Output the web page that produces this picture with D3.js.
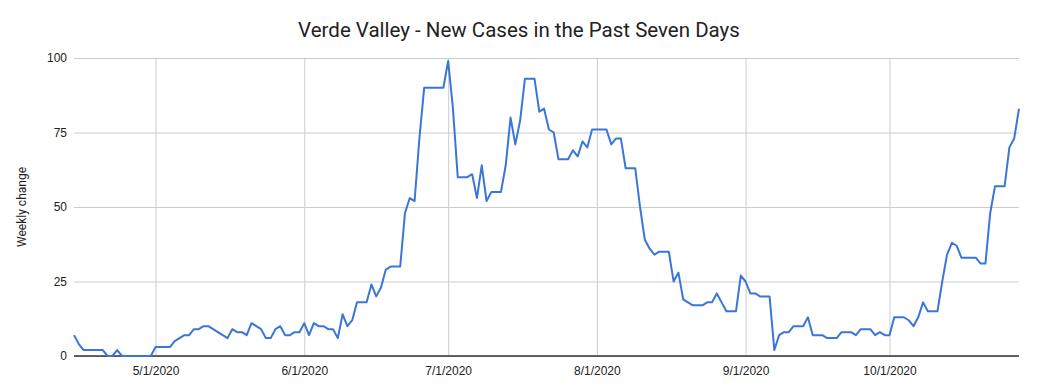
<!DOCTYPE html>
<html>
<head>
<meta charset="utf-8">
<script src="https://cdnjs.cloudflare.com/ajax/libs/d3/7.8.5/d3.min.js"></script>
<style>
  body { margin: 0; background: #fff; }
  svg { font-family: Roboto, Arial, sans-serif; }
</style>
</head>
<body>
<script>
// daily values starting 4/14/2020
var startDate = "2020-04-14";
var weeklyChange = [
    7, 4, 2, 2, 2, 2, 2, 0, 0, 2, 0, 0, 0, 0, 0, 0, 0,          // Apr 14-30
    3, 3, 3, 3, 5, 6, 7, 7, 9, 9, 10, 10, 9, 8, 7, 6, 9, 8, 8, 7,
    11, 10, 9, 6, 6, 9, 10, 7, 7, 8, 8,                          // May
    11, 7, 11, 10, 10, 9, 9, 6, 14, 10, 12, 18, 18, 18, 24, 20, 23,
    29, 30, 30, 30, 48, 53, 52, 73, 90, 90, 90, 90, 90,          // June
    99, 83, 60, 60, 60, 61, 53, 64, 52, 55, 55, 55, 64, 80, 71, 79,
    93, 93, 93, 82, 83, 76, 75, 66, 66, 66, 69, 67, 72, 70, 76,   // July
    76, 76, 76, 71, 73, 73, 63, 63, 63, 50, 39, 36, 34, 35, 35, 35,
    25, 28, 19, 18, 17, 17, 17, 18, 18, 21, 18, 15, 15, 15, 27,   // Aug
    25, 21, 21, 20, 20, 20, 2, 7, 8, 8, 10, 10, 10, 13, 7, 7, 7,
    6, 6, 6, 8, 8, 8, 7, 9, 9, 9, 7, 8, 7,                       // Sep
    7, 13, 13, 13, 12, 10, 13, 18, 15, 15, 15, 25, 34, 38, 37, 33,
    33, 33, 33, 31, 31, 48, 57, 57, 57, 70, 73, 83               // Oct 1-28
];
var yTicks = [0, 25, 50, 75, 100];
var xTickDates = ["2020-05-01", "2020-06-01", "2020-07-01", "2020-08-01", "2020-09-01", "2020-10-01"];

var width = 1038, height = 392;
var margin = {top: 58, right: 19, bottom: 36, left: 74};

var parse = d3.timeParse("%Y-%m-%d");
var t0 = parse(startDate);
var data = weeklyChange.map(function(v, i){
    return {date: d3.timeDay.offset(t0, i), value: v};
});

var svg = d3.select("body").append("svg")
    .attr("width", width)
    .attr("height", height);

var x = d3.scaleTime()
    .domain([data[0].date, data[data.length - 1].date])
    .range([margin.left, width - margin.right]);

var y = d3.scaleLinear()
    .domain([0, 100])
    .range([height - margin.bottom, margin.top]);

// horizontal gridlines + labels
var yAxis = d3.axisLeft(y)
    .tickValues(yTicks)
    .tickSize(-(width - margin.right - margin.left))
    .tickPadding(7);

svg.append("g")
    .attr("transform", "translate(" + margin.left + ",0)")
    .call(yAxis)
    .call(function(g){
        g.select(".domain").remove();
        g.selectAll(".tick line").attr("stroke", "#cccccc");
        g.selectAll(".tick text").attr("fill", "#222").style("font-size", "12px");
    });

// vertical gridlines + labels
var xAxis = d3.axisBottom(x)
    .tickValues(xTickDates.map(parse))
    .tickFormat(d3.timeFormat("%-m/%-d/%Y"))
    .tickSize(-(height - margin.bottom - margin.top))
    .tickPadding(10);

svg.append("g")
    .attr("transform", "translate(0," + (height - margin.bottom) + ")")
    .call(xAxis)
    .call(function(g){
        g.select(".domain").remove();
        g.selectAll(".tick line").attr("stroke", "#cccccc");
        g.selectAll(".tick text").attr("fill", "#222").style("font-size", "12px");
    });

// baseline
svg.append("line")
    .attr("x1", margin.left)
    .attr("x2", width - margin.right)
    .attr("y1", y(0))
    .attr("y2", y(0))
    .attr("stroke", "#333")
    .attr("stroke-width", 1.5);

var line = d3.line()
    .x(function(d){ return x(d.date); })
    .y(function(d){ return y(d.value); });

svg.append("path")
    .datum(data)
    .attr("fill", "none")
    .attr("stroke", "#3a76d8")
    .attr("stroke-width", 2)
    .attr("stroke-linejoin", "round")
    .attr("d", line);

svg.append("text")
    .attr("x", width / 2)
    .attr("y", 37)
    .attr("text-anchor", "middle")
    .attr("fill", "#222")
    .style("font-size", "20.5px")
    .text("Verde Valley - New Cases in the Past Seven Days");

svg.append("text")
    .attr("transform", "translate(26," + ((margin.top + height - margin.bottom) / 2) + ") rotate(-90)")
    .attr("text-anchor", "middle")
    .attr("fill", "#222")
    .style("font-size", "12px")
    .text("Weekly change");
</script>
</body>
</html>
